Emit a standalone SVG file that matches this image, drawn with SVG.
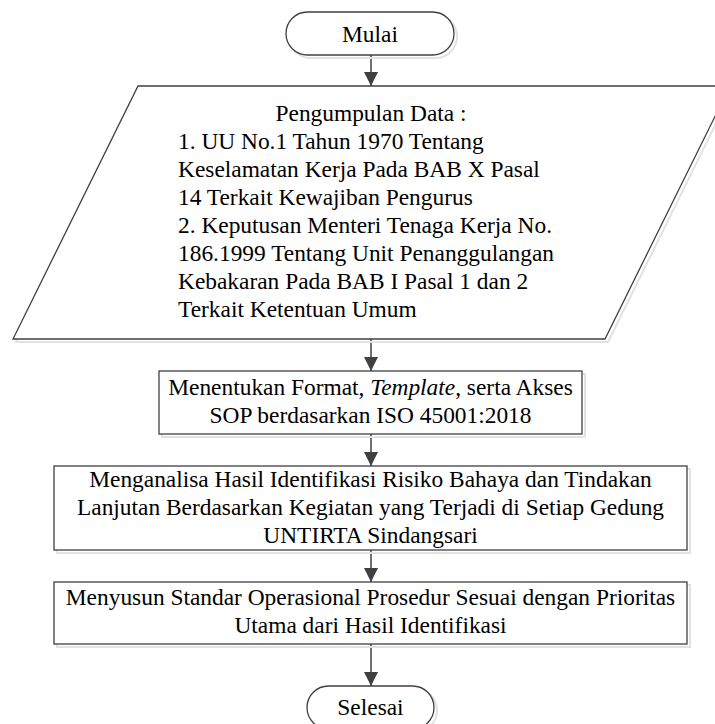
<svg xmlns="http://www.w3.org/2000/svg" width="715" height="724" viewBox="0 0 715 724">
<style>
  .shape { fill: #ffffff; stroke: #404040; stroke-width: 1.3; }
  .shadow { fill: none; stroke: #e2e2e2; stroke-width: 2; }
  .t { font-family: "Liberation Serif", "Times New Roman", serif; font-size: 23.4px; fill: #000000; }
  .c { text-anchor: middle; }
  .conn { stroke: #404040; stroke-width: 1.5; fill: none; marker-end: url(#arrow); }
</style>
<defs>
  <marker id="arrow" viewBox="0 0 14 15" refX="14" refY="7" markerWidth="14" markerHeight="15" markerUnits="userSpaceOnUse" orient="auto">
    <path d="M0,0 L14,7 L0,14 Z" fill="#404040"/>
  </marker>
</defs>
<rect width="715" height="724" fill="#ffffff"/>

<g id="connectors">
  <line class="conn" x1="371" y1="55" x2="371" y2="86"/>
  <line class="conn" x1="371" y1="339" x2="371" y2="371"/>
  <line class="conn" x1="371" y1="434" x2="371" y2="466"/>
  <line class="conn" x1="371" y1="550" x2="371" y2="582"/>
  <line class="conn" x1="371" y1="644" x2="371" y2="686"/>
</g>

<g id="mulai">
  <rect class="shadow" x="289" y="15" width="168" height="43" rx="21.5"/>
  <rect class="shape" x="286" y="12" width="168" height="43" rx="21.5"/>
  <text class="t c" x="370" y="42">Mulai</text>
</g>

<g id="pengumpulan-data">
  <polygon class="shadow" points="141,89 733,89 608,342 16,342"/>
  <polygon class="shape" points="138,86 730,86 605,339 13,339"/>
  <text class="t c" x="371" y="121">Pengumpulan Data :</text>
  <text class="t" x="178" y="149">1. UU No.1 Tahun 1970 Tentang</text>
  <text class="t" x="178" y="177">Keselamatan Kerja Pada BAB X Pasal</text>
  <text class="t" x="178" y="205">14 Terkait Kewajiban Pengurus</text>
  <text class="t" x="178" y="233">2. Keputusan Menteri Tenaga Kerja No.</text>
  <text class="t" x="178" y="261">186.1999 Tentang Unit Penanggulangan</text>
  <text class="t" x="178" y="289">Kebakaran Pada BAB I Pasal 1 dan 2</text>
  <text class="t" x="178" y="317">Terkait Ketentuan Umum</text>
</g>

<g id="menentukan-format">
  <rect class="shadow" x="162" y="374" width="423" height="63"/>
  <rect class="shape" x="159" y="371" width="423" height="63"/>
  <text class="t c" x="370.5" y="395">Menentukan Format, <tspan font-style="italic">Template</tspan>, serta Akses</text>
  <text class="t c" x="370.5" y="423">SOP berdasarkan ISO 45001:2018</text>
</g>

<g id="menganalisa">
  <rect class="shadow" x="57" y="469" width="633" height="84"/>
  <rect class="shape" x="54" y="466" width="633" height="84"/>
  <text class="t c" x="370.5" y="487">Menganalisa Hasil Identifikasi Risiko Bahaya dan Tindakan</text>
  <text class="t c" x="370.5" y="515">Lanjutan Berdasarkan Kegiatan yang Terjadi di Setiap Gedung</text>
  <text class="t c" x="370.5" y="543">UNTIRTA Sindangsari</text>
</g>

<g id="menyusun-sop">
  <rect class="shadow" x="57" y="585" width="633" height="62"/>
  <rect class="shape" x="54" y="582" width="633" height="62"/>
  <text class="t c" x="370.5" y="605">Menyusun Standar Operasional Prosedur Sesuai dengan Prioritas</text>
  <text class="t c" x="370.5" y="633">Utama dari Hasil Identifikasi</text>
</g>

<g id="selesai">
  <rect class="shadow" x="310" y="689" width="127" height="43" rx="21.5"/>
  <rect class="shape" x="307" y="686" width="127" height="43" rx="21.5"/>
  <text class="t c" x="370.5" y="715">Selesai</text>
</g>
</svg>
